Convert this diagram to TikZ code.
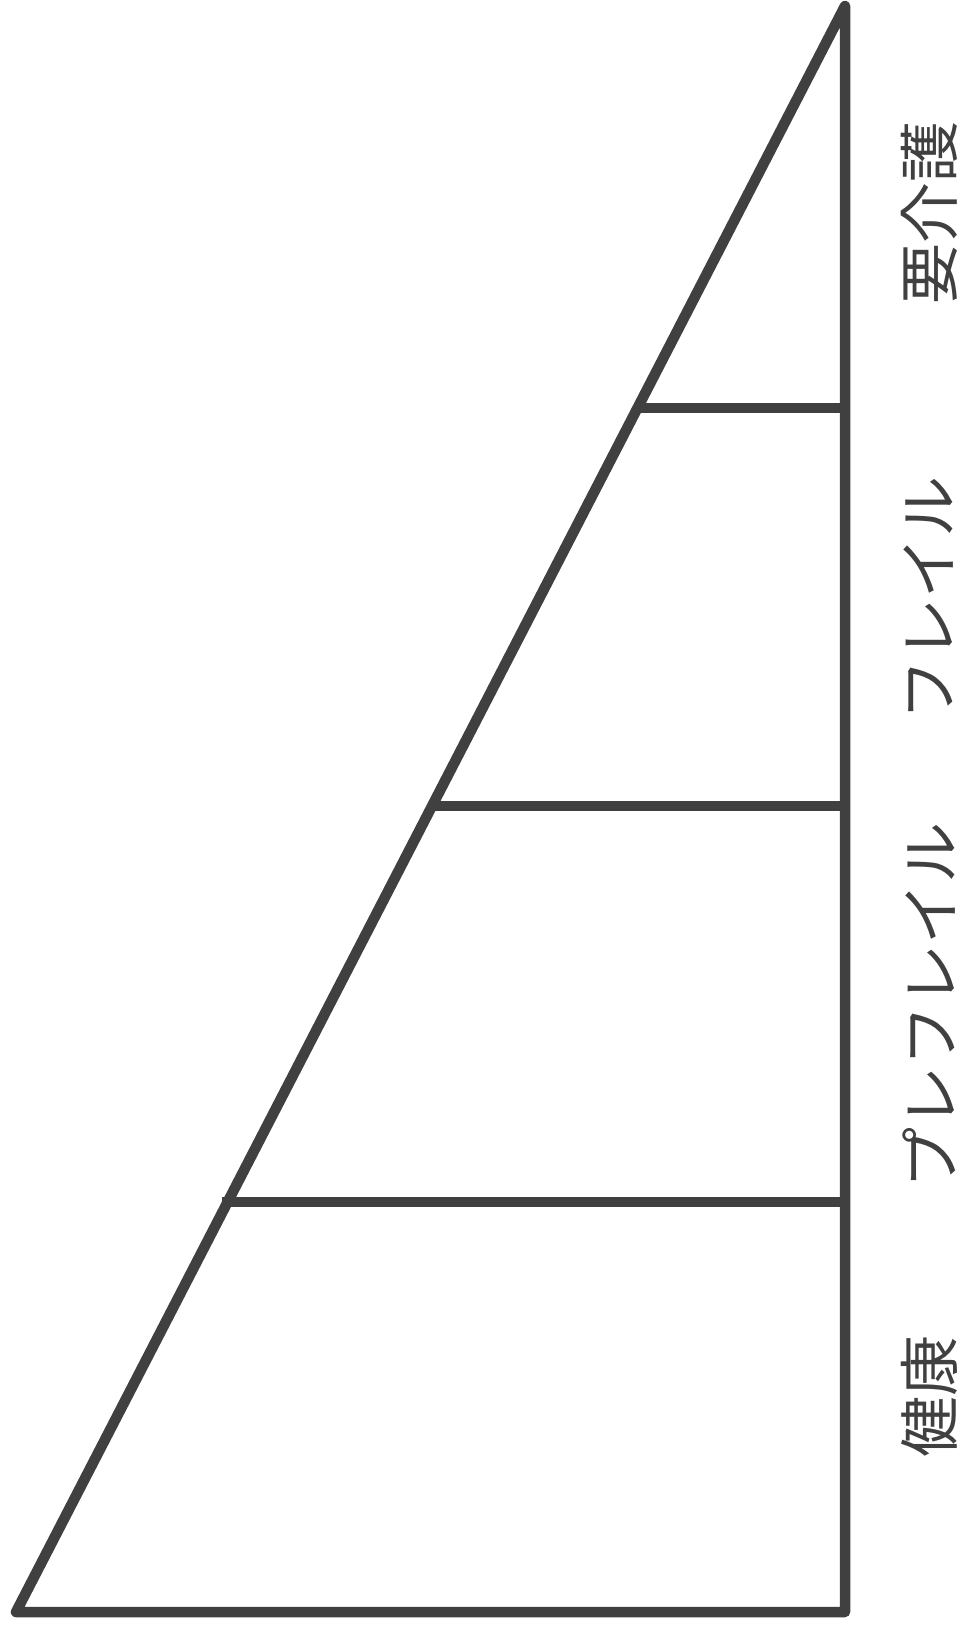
\documentclass[tikz,border=0pt]{standalone}
\usepackage{fontspec}
\newfontfamily\jpfont{Noto Sans CJK JP}
\definecolor{ink}{HTML}{404040}
\begin{document}
\begin{tikzpicture}[x=1pt,y=-1pt,
  edge/.style={draw=ink,line width=10.5pt,line join=round,line cap=round},
  band/.style={draw=ink,line width=10.5pt},
  lbl/.style={text=ink,rotate=90,inner sep=0pt,font=\jpfont\fontsize{61}{61}\selectfont}]
\useasboundingbox (0,0) rectangle (964,1625);
\coordinate (apex) at (845,6);
\coordinate (bl) at (16,1612);
\coordinate (br) at (845,1612);
\draw[edge] (apex) -- (br) -- (bl) -- cycle;
\coordinate (h1l) at (634,408);
\coordinate (h1r) at (845,408);
\coordinate (h2l) at (429,806);
\coordinate (h2r) at (845,806);
\coordinate (h3l) at (222,1202);
\coordinate (h3r) at (845,1202);
\draw[band] (h1l) -- (h1r);
\draw[band] (h2l) -- (h2r);
\draw[band] (h3l) -- (h3r);
\node[lbl] (t1) at (929,213) {要介護};
\node[lbl] (t2) at (929,598) {フレイル};
\node[lbl] (t3) at (929,1005) {プレフレイル};
\node[lbl] (t4) at (929,1396) {健康};
\end{tikzpicture}
\end{document}
